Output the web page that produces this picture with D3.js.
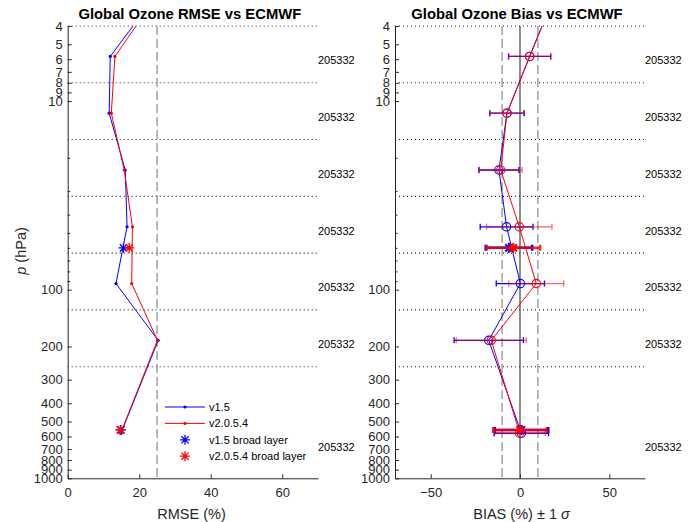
<!DOCTYPE html>
<html>
<head>
<meta charset="utf-8">
<script src="https://cdn.jsdelivr.net/npm/d3@7/dist/d3.min.js"></script>
<style>
  body { margin: 0; background: #fff; }
  svg { display: block; font-family: "Liberation Sans", Arial, sans-serif; }
  .tick-label { font-size: 13px; fill: #262626; }
</style>
</head>
<body>
<svg id="chart" width="692" height="522"></svg>
<script>
// layer pressures (hPa); first one sits above the plot top and gets clipped
const layerP = [2.9, 5.8, 11.6, 23.2, 46.4, 92.8, 185.6, 577];
const rmseV15 = [23.8, 11.9, 11.6, 16.1, 16.6, 13.5, 25.3, 14.9];
const rmseV2 = [24.2, 13.2, 12.2, 15.8, 18.1, 17.9, 25.1, 14.8];
const biasV15 = [18.4, 5.4, -7.3, -11.8, -7.5, 0.2, -17.5, 0.8];
const biasV2 = [18.4, 5.4, -7.3, -10.8, -0.4, 9.1, -16.1, -0.2];
const sdV15 = [0, 11.8, 9.6, 11.2, 14.8, 13.5, 19.4, 15.2];
const sdV2 = [0, 11.8, 9.6, 12.0, 18.3, 15.4, 19.6, 14.4];

// broad layer results
const broadP = [60, 554];
const rmseBroadV15 = [15.6, 14.9];
const rmseBroadV2 = [17.2, 14.7];
const biasBroadV15 = [-6.2, 0.8];
const biasBroadV2 = [-3.7, 0];
const sdBroadV15 = [13, 15];
const sdBroadV2 = [15, 15];

// layer boundaries and counts
const boundaryP = [4, 8, 16, 32, 64, 128, 256];
const labelP = [6.1, 12.2, 24.4, 48.8, 97, 195, 685];
const countLabels = ["205332", "205332", "205332", "205332", "205332", "205332", "205332"];

const yTicks = [4, 5, 6, 7, 8, 9, 10, 20, 30, 40, 50, 60, 70, 80, 90,
  100, 200, 300, 400, 500, 600, 700, 800, 900, 1000];
const rmseTicks = [0, 20, 40, 60];
const biasTicks = [-50, 0, 50];

const blue = "#0000ff";
const red = "#ff0000";
const axisColor = "#262626";

const svg = d3.select("#chart");
svg.append("rect").attr("width", 692).attr("height", 522).attr("fill", "#fff");

const plotTop = 26;
const plotBottom = 478.3;
const y = d3.scaleLog().domain([4, 1000]).range([plotTop, plotBottom]);

function starPath(s) {
  const a = s * 0.72;
  return `M${-s},0H${s}M0,${-s}V${s}M${-a},${-a}L${a},${a}M${-a},${a}L${a},${-a}`;
}

function drawPanel(x, id, title, xTicks) {
  const [x0, x1] = x.range();
  const g = svg.append("g");
  svg.append("clipPath").attr("id", id).append("rect")
    .attr("x", x0).attr("y", plotTop).attr("width", x1 - x0).attr("height", plotBottom - plotTop);

  // dotted layer boundaries
  g.selectAll("line.bound").data(boundaryP).join("line")
    .attr("x1", x0).attr("x2", x1)
    .attr("y1", (d) => y(d)).attr("y2", (d) => y(d))
    .attr("stroke", "#222").attr("stroke-width", 1.1).attr("stroke-dasharray", "1 3");

  // count labels
  g.selectAll("text.count").data(labelP).join("text")
    .attr("x", x1).attr("y", (d) => y(d))
    .attr("dy", "0.35em").attr("font-size", 11).attr("fill", "#000")
    .text((d, i) => countLabels[i]);

  // axes: left and bottom only, ticks inward
  const yAxis = g.append("g").attr("transform", `translate(${x0},0)`)
    .call(d3.axisLeft(y).tickValues(yTicks).tickSizeOuter(0).tickSizeInner(-4)
      .tickFormat((d) => (d <= 10 || d >= 100 ? d : "")));
  yAxis.selectAll(".tick line").filter((d) => d > 10 && d < 100).attr("x2", 2.5);
  const xAxis = g.append("g").attr("transform", `translate(0,${plotBottom})`)
    .call(d3.axisBottom(x).tickValues(xTicks).tickSizeOuter(0).tickSizeInner(-4));
  [yAxis, xAxis].forEach((a) => {
    a.select(".domain").attr("stroke", axisColor);
    a.selectAll(".tick line").attr("stroke", axisColor);
    a.selectAll(".tick text").attr("class", "tick-label").attr("font-family", null).attr("font-size", null);
  });
  yAxis.attr("font-family", null).attr("font-size", null);
  xAxis.attr("font-family", null).attr("font-size", null);
  yAxis.selectAll(".tick text").attr("x", -5);
  xAxis.selectAll(".tick text").attr("y", 9);

  svg.append("text").attr("x", (x0 + x1) / 2 - 3).attr("y", 19)
    .attr("text-anchor", "middle").attr("font-size", 14.8).attr("font-weight", "bold")
    .attr("fill", "#000").text(title);

  return g;
}

function drawLine(g, id, x, values, color) {
  const pts = layerP.map((p, i) => [x(values[i]), y(p)]);
  const line = g.append("g").attr("clip-path", `url(#${id})`);
  line.append("path").attr("d", d3.line()(pts))
    .attr("fill", "none").attr("stroke", color).attr("stroke-width", 1);
  return line;
}

function drawStars(g, x, values, color, width) {
  g.selectAll(null).data(broadP).join("path")
    .attr("transform", (d, i) => `translate(${x(values[i])},${y(d)})`)
    .attr("d", starPath(5))
    .attr("fill", "none").attr("stroke", color).attr("stroke-width", width);
}

function drawErrorBars(g, x, ps, values, sds, color, opacity, width) {
  const bars = g.append("g").attr("stroke", color).attr("stroke-opacity", opacity)
    .attr("stroke-width", width).attr("fill", "none");
  ps.forEach((p, i) => {
    if (!sds[i]) return;
    const yy = y(p);
    const xl = x(values[i] - sds[i]);
    const xr = x(values[i] + sds[i]);
    bars.append("path").attr("d", `M${xl},${yy}H${xr}M${xl},${yy - 3}V${yy + 3}M${xr},${yy - 3}V${yy + 3}`);
  });
}

// ---------- left panel: RMSE ----------
const xRmse = d3.scaleLinear().domain([0, 70]).range([67.7, 318]);
const gL = drawPanel(xRmse, "clipL", "Global Ozone RMSE vs ECMWF", rmseTicks);

gL.append("line")
  .attr("x1", xRmse(25)).attr("x2", xRmse(25)).attr("y1", plotTop).attr("y2", plotBottom)
  .attr("stroke", "#a0a0a0").attr("stroke-width", 1.5).attr("stroke-dasharray", "9 4");

[[rmseV15, blue], [rmseV2, red]].forEach(([vals, color]) => {
  const l = drawLine(gL, "clipL", xRmse, vals, color);
  l.selectAll("circle").data(layerP).join("circle")
    .attr("cx", (d, i) => xRmse(vals[i])).attr("cy", (d) => y(d))
    .attr("r", 1.6).attr("fill", color);
});
drawStars(gL, xRmse, rmseBroadV15, blue, 1.3);
drawStars(gL, xRmse, rmseBroadV2, red, 1.3);

// legend
const legendItems = [
  { label: "v1.5", color: blue, kind: "line" },
  { label: "v2.0.5.4", color: red, kind: "line" },
  { label: "v1.5 broad layer", color: blue, kind: "star" },
  { label: "v2.0.5.4 broad layer", color: red, kind: "star" },
];
const legend = gL.append("g").attr("transform", "translate(165,407)");
legendItems.forEach((item, i) => {
  const row = legend.append("g").attr("transform", `translate(0,${i * 16.4})`);
  if (item.kind === "line") {
    row.append("line").attr("x1", 0).attr("x2", 40)
      .attr("stroke", item.color).attr("stroke-width", 1);
    row.append("circle").attr("cx", 20).attr("r", 1.6).attr("fill", item.color);
  } else {
    row.append("path").attr("transform", "translate(20,0)").attr("d", starPath(5))
      .attr("fill", "none").attr("stroke", item.color).attr("stroke-width", 1.3);
  }
  row.append("text").attr("x", 44).attr("dy", "0.35em")
    .attr("font-size", 11).attr("fill", "#000").text(item.label);
});

svg.append("text").attr("x", 191.5).attr("y", 519).attr("text-anchor", "middle")
  .attr("font-size", 14.5).attr("fill", axisColor).text("RMSE (%)");

// ---------- right panel: bias ----------
const xBias = d3.scaleLinear().domain([-70, 70]).range([395, 645]);
const gR = drawPanel(xBias, "clipR", "Global Ozone Bias vs ECMWF", biasTicks);

[-10, 10].forEach((v) => {
  gR.append("line")
    .attr("x1", xBias(v)).attr("x2", xBias(v)).attr("y1", plotTop).attr("y2", plotBottom)
    .attr("stroke", "#a0a0a0").attr("stroke-width", 1.5).attr("stroke-dasharray", "9 4");
});
gR.append("line")
  .attr("x1", xBias(0)).attr("x2", xBias(0)).attr("y1", plotTop).attr("y2", plotBottom)
  .attr("stroke", "#404040").attr("stroke-width", 1.2);

[[biasV15, sdV15, blue, 1], [biasV2, sdV2, red, 0.6]].forEach(([vals, sds, color, op]) => {
  drawErrorBars(gR, xBias, layerP, vals, sds, color, op, 1.3);
  const l = drawLine(gR, "clipR", xBias, vals, color);
  l.selectAll("circle").data(layerP).join("circle")
    .attr("cx", (d, i) => xBias(vals[i])).attr("cy", (d) => y(d))
    .attr("r", 4.2).attr("fill", "none").attr("stroke", color).attr("stroke-width", 1.1);
});
drawErrorBars(gR, xBias, broadP, biasBroadV15, sdBroadV15, blue, 1, 2.5);
drawStars(gR, xBias, biasBroadV15, blue, 2);
drawErrorBars(gR, xBias, broadP, biasBroadV2, sdBroadV2, red, 0.85, 2.5);
drawStars(gR, xBias, biasBroadV2, red, 2);

const biasLabel = svg.append("text").attr("x", 521.5).attr("y", 519).attr("text-anchor", "middle")
  .attr("font-size", 14.5).attr("fill", axisColor);
biasLabel.append("tspan").text("BIAS (%) \u00b1 1 ");
biasLabel.append("tspan").attr("font-style", "italic").text("\u03c3");

// shared y label
const yLabel = svg.append("text").attr("transform", "translate(26,251) rotate(-90)")
  .attr("text-anchor", "middle").attr("font-size", 14.5).attr("fill", axisColor);
yLabel.append("tspan").attr("font-style", "italic").text("p");
yLabel.append("tspan").text(" (hPa)");
</script>
</body>
</html>
